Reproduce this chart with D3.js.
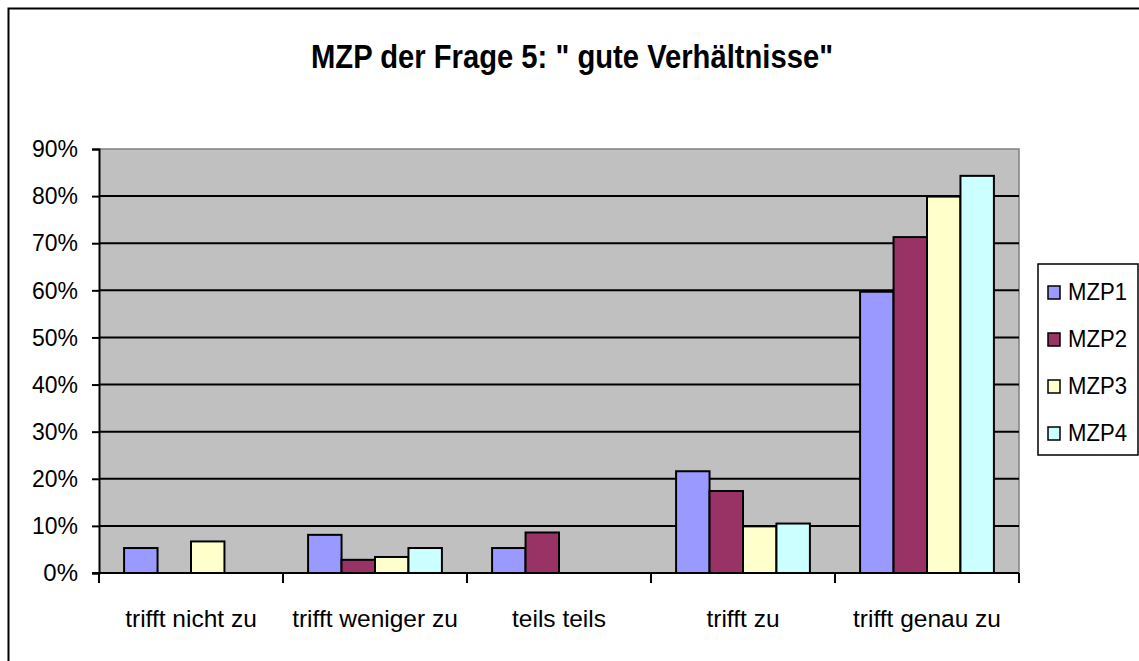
<!DOCTYPE html>
<html>
<head>
<meta charset="utf-8">
<script src="https://cdn.jsdelivr.net/npm/d3@7"></script>
<style>
html,body{margin:0;padding:0;background:#fff;}
svg{display:block;}
text{font-family:"Liberation Sans",Arial,sans-serif;fill:#000;}
</style>
</head>
<body>
<svg id="chart" width="1139" height="661"></svg>
<script>
const title = "MZP der Frage 5: \" gute Verhältnisse\"";
const categories = ["trifft nicht zu","trifft weniger zu","teils teils","trifft zu","trifft genau zu"];
const seriesNames = ["MZP1","MZP2","MZP3","MZP4"];
const seriesColors = ["#9999FF","#993366","#FFFFCC","#CCFFFF"];
const mzp1 = [0.053, 0.081, 0.053, 0.216, 0.597];
const mzp2 = [0,     0.028, 0.086, 0.174, 0.713];
const mzp3 = [0.067, 0.034, 0,     0.099, 0.799];
const mzp4 = [0,     0.053, 0,     0.105, 0.843];
const yTicks = [0,0.1,0.2,0.3,0.4,0.5,0.6,0.7,0.8,0.9];

const seriesValues = [mzp1, mzp2, mzp3, mzp4];
const svg = d3.select("#chart");

// outer frame
svg.append("rect").attr("x",8.5).attr("y",8.5).attr("width",1200).attr("height",700)
  .attr("fill","#fff").attr("stroke","#000").attr("stroke-width",2);

const L = 99, R = 1019, T = 149, B = 573;
const x0 = d3.scaleBand().domain(categories).range([L, R]).padding(0);
const x1 = d3.scaleBand().domain(seriesNames).range([0, x0.bandwidth()]).paddingInner(0).paddingOuter(0.75);
const y = d3.scaleLinear().domain([0, 0.9]).range([B, T]);

// plot area
svg.append("rect").attr("x",L).attr("y",T).attr("width",R-L).attr("height",B-T).attr("fill","#C0C0C0");
// top/right gray border
svg.append("path").attr("d",`M${L},${T}H${R}V${B}`).attr("fill","none").attr("stroke","#808080").attr("stroke-width",1.5);

// gridlines
svg.append("g").selectAll("line").data(yTicks.filter(d=>d>0 && d<0.9)).join("line")
  .attr("x1",L).attr("x2",R).attr("y1",d=>y(d)).attr("y2",d=>y(d))
  .attr("stroke","#000").attr("stroke-width",2);

// bars
const rows = [];
categories.forEach((c,i)=>seriesNames.forEach((s,j)=>{
  if (seriesValues[j][i] > 0) rows.push({c, s, v: seriesValues[j][i], color: seriesColors[j]});
}));
svg.append("g").selectAll("rect").data(rows).join("rect")
  .attr("x",d=>x0(d.c)+x1(d.s)).attr("width",x1.bandwidth())
  .attr("y",d=>y(d.v)).attr("height",d=>y(0)-y(d.v))
  .attr("fill",d=>d.color).attr("stroke","#000").attr("stroke-width",2);

// y axis
const yAxis = d3.axisLeft(y).tickValues(yTicks).tickFormat(d3.format(".0%")).tickSize(7).tickPadding(14);
const gy = svg.append("g").attr("transform",`translate(${L},0)`).call(yAxis);
gy.select(".domain").attr("stroke","#000").attr("stroke-width",2);
gy.selectAll(".tick line").attr("stroke","#000").attr("stroke-width",2);
gy.selectAll(".tick text").attr("font-size",24).attr("font-family","Liberation Sans, Arial, sans-serif").attr("fill","#000")
  .attr("textLength",46).attr("lengthAdjust","spacingAndGlyphs");
gy.selectAll(".tick text").filter(d=>d===0).attr("textLength",null);

// x axis: baseline + boundary ticks
svg.append("line").attr("x1",L-7).attr("x2",R).attr("y1",B).attr("y2",B).attr("stroke","#000").attr("stroke-width",2);
const bounds = categories.map(c=>x0(c)).concat([R]);
svg.append("g").selectAll("line").data(bounds).join("line")
  .attr("x1",d=>d).attr("x2",d=>d).attr("y1",B).attr("y2",B+10)
  .attr("stroke","#000").attr("stroke-width",2);
svg.append("g").selectAll("text").data(categories).join("text")
  .attr("x",d=>x0(d)+x0.bandwidth()/2).attr("y",627)
  .attr("text-anchor","middle").attr("font-size",24.5).text(d=>d);

// title
svg.append("text").attr("x",572).attr("y",68).attr("text-anchor","middle")
  .attr("font-size",34).attr("font-weight","bold")
  .attr("textLength",522).attr("lengthAdjust","spacingAndGlyphs").text(title);

// legend
const lg = svg.append("g");
lg.append("rect").attr("x",1038).attr("y",264).attr("width",100).attr("height",191)
  .attr("fill","#fff").attr("stroke","#000").attr("stroke-width",1.5);
const ly = d3.scalePoint().domain(seriesNames).range([292, 433]);
const items = lg.selectAll("g.item").data(seriesNames).join("g").attr("class","item")
  .attr("transform",d=>`translate(0,${ly(d)})`);
items.append("rect").attr("x",1048).attr("y",-6).attr("width",12).attr("height",13)
  .attr("fill",(d,i)=>seriesColors[i]).attr("stroke","#000").attr("stroke-width",1.5);
items.append("text").attr("x",1068).attr("y",8).attr("font-size",23)
  .attr("textLength",59).attr("lengthAdjust","spacingAndGlyphs").text(d=>d);
</script>
</body>
</html>
